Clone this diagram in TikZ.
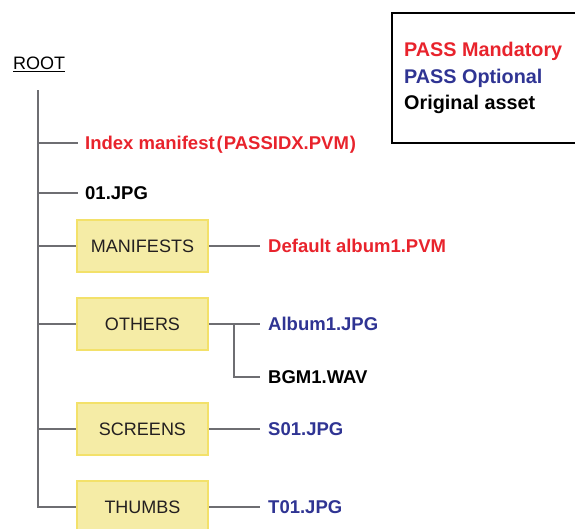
\documentclass[tikz,border=0pt]{standalone}
\usepackage{fontspec}
\setmainfont{Liberation Sans}
\definecolor{passred}{HTML}{E8232C}
\definecolor{passblue}{HTML}{2F3493}
\definecolor{linegray}{HTML}{6E6E72}
\definecolor{boxfill}{HTML}{F5ECA6}
\definecolor{boxedge}{HTML}{F3E16A}
\definecolor{boxtext}{HTML}{231F20}
\begin{document}
\begin{tikzpicture}[x=1pt,y=-1pt,
  conn/.style={draw=linegray,line width=2pt},
  trunk/.style={draw=linegray,line width=2.5pt},
  folder/.style={draw=boxedge,fill=boxfill,line width=2pt,minimum width=131pt,minimum height=52pt,inner sep=0pt,font=\fontsize{18}{20}\selectfont,text=boxtext},
  item/.style={anchor=west,inner ysep=0pt,text height=13pt,text depth=0pt,font=\bfseries\fontsize{18.5}{20}\selectfont},
  lefti/.style={item,inner xsep=7pt},
  righti/.style={item,inner xsep=8pt},
  legend/.style={anchor=west,inner sep=0pt,text height=13pt,text depth=0pt,font=\bfseries\fontsize{19.8}{22}\selectfont}]
\useasboundingbox (0,0) rectangle (575,528);
% legend
\node[draw=black,line width=2pt,minimum width=190pt,minimum height=130pt,anchor=north west] (leg) at (391,12) {};
\node[legend,text=passred] (lm) at (404,50) {PASS Mandatory};
\node[legend,text=passblue] (lo) at (404,77) {PASS Optional};
\node[legend,text=black] (la) at (404,103) {Original asset};
% root
\node[anchor=west,inner sep=0pt,text height=13pt,text depth=0pt,font=\fontsize{18}{20}\selectfont] (root) at (13,63) {\underline{ROOT}};
% trunk points
\coordinate (ttop) at (38,90);
\coordinate (t1) at (38,143);
\coordinate (t2) at (38,193);
\coordinate (t3) at (38,246);
\coordinate (t4) at (38,324);
\coordinate (t5) at (38,429);
\coordinate (t6) at (38,507);
% folders
\node[folder] (man) at (142.5,246) {MANIFESTS};
\node[folder] (oth) at (142.5,324) {OTHERS};
\node[folder] (scr) at (142.5,429) {SCREENS};
\node[folder] (thu) at (142.5,507) {THUMBS};
% left items
\node[lefti,text=passred] (idx) at (78,143) {Index manifest\hspace{2pt}(\hspace{1pt}PASSIDX.PVM\hspace{1pt})};
\node[lefti,text=black] (jpg) at (78,193) {01.JPG};
% right items
\node[righti,text=passred] (def) at (260,246) {Default album1.PVM};
\node[righti,text=passblue] (alb) at (260,324) {Album1.JPG};
\node[righti,text=black] (bgm) at (260,377) {BGM1.WAV};
\node[righti,text=passblue] (s01) at (260,429) {S01.JPG};
\node[righti,text=passblue] (t01) at (260,507) {T01.JPG};
\coordinate (junc) at (234,324);
% connectors
\draw[trunk,line join=miter] (ttop) -- (t6) -- (thu.west);
\draw[conn] (t1) -- (idx.west);
\draw[conn] (t2) -- (jpg.west);
\draw[conn] (t3) -- (man.west);
\draw[conn] (t4) -- (oth.west);
\draw[conn] (t5) -- (scr.west);
\draw[conn] (man.east) -- (def.west);
\draw[conn] (oth.east) -- (alb.west);
\draw[conn] (junc) |- (bgm.west);
\draw[conn] (scr.east) -- (s01.west);
\draw[conn] (thu.east) -- (t01.west);
\end{tikzpicture}
\end{document}
